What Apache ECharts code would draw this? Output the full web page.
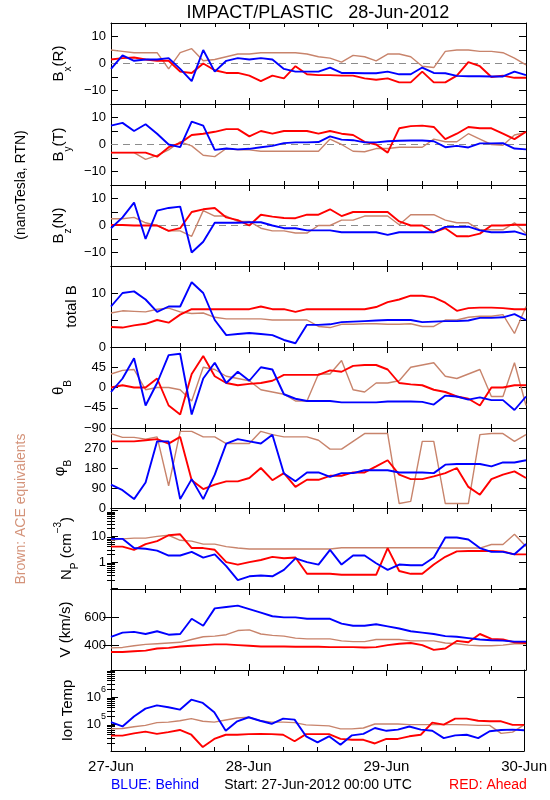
<!DOCTYPE html>
<html><head><meta charset="utf-8">
<script src="https://cdn.jsdelivr.net/npm/echarts@6/dist/echarts.min.js"></script>
<style>html,body{margin:0;padding:0;background:#fff}#c{width:550px;height:800px}</style>
</head><body><div id="c"></div>
<script>
// ---------- data (hours since 27-Jun-2012 00:00 UTC) ----------
const HOURS = [0,2,4,6,8,10,12,14,16,18,20,22,24,26,28,30,32,34,36,38,40,42,44,46,48,50,52,54,56,58,60,62,64,66,68,70,72];
const X_TICK_LABELS = ['27-Jun','28-Jun','29-Jun','30-Jun'];

const BX_BEHIND = [-2,3,1,1.5,1.5,2,-2,-6.5,5,-3,1,2,1.5,2,1.5,-2,-3,-3,-3,-1.5,-3.5,-3.5,-3.6,-3.6,-3,-4,-4,-1.5,-3.5,-3.6,-4.6,-4.7,-4.7,-4.8,-4.8,-3,-4.3];
const BX_AHEAD  = [1.5,2,2.2,1.5,1,1,-3,-3.5,0,-2.5,-3.5,-3.5,-4.5,-6.5,-4.5,-5.5,-1,-4,-4.3,-4.3,-4.5,-4.5,-5.5,-6,-5.5,-7,-7,-3,-7,-7,-4.5,0.5,-1,-5,-4.5,-5.3,-5.3];
const BX_ACE    = [5,4.5,4,4,4,-2,4,5.5,1,1.5,2.5,3.5,3.5,4,4,4,4,3.5,2.5,2,0.5,3,2.5,1,3.5,3.5,2.5,-1,-1.5,4.5,5,5,4.5,4.5,4,2,-0.5];

const BY_BEHIND = [7,8,5,7.5,4,0,-1,8.5,7,-2,-1.5,-1.8,-1.6,-1,-0.5,0.5,0.8,0.8,0.9,3,1.8,1.6,0.8,0.8,1.2,1.4,1.5,1.5,1.2,-1,-0.5,-1.1,0.4,0.4,0.5,-1.5,-1.8];
const BY_AHEAD  = [-3,-3,-3,-3,-4.5,-1,0.5,3.5,4,4.7,5.7,5.7,3,5,4,5,5,5,4,5,4,3.5,1,0,-3,6,6.8,7,6.5,2,4,6.5,6,6,4,2,4.7];
const BY_ACE    = [-3,-3,-3,-5.5,-4,-2,1,-0.5,-4,-4.5,-1.5,-2,-2,-2.5,-2.5,-2.5,-2.5,-2.5,-2.5,2,0,-2.5,-2.7,-1.5,-1.5,-1,-1,-1,2,1,1,4,2,0,-0.3,3.5,4.5];

const BZ_BEHIND = [-1,3,8.5,-5,5.5,6.5,7,-10,-6,1,1,1,1.2,1.2,0,-1,-1,-1.8,-1.8,-1.8,-2.5,-2.5,-2.5,-2.5,-3.5,-2.5,-2.5,-2.5,-2.5,-0.5,-0.5,-0.4,-1.8,-2.5,-2.5,-2.2,-3.5];
const BZ_AHEAD  = [0.2,0.2,0,0,0,-2,-1,5,6,6.5,3,2,0,4,3.3,2.8,2.7,4,4,6,3.5,5,5,5,5,1.5,0,0,-2.5,-1,-4,-4,-3,0,0,0.3,0.3];
const BZ_ACE    = [2.5,2.5,3,1,0,-2,-2,-4,5.5,3.5,3.5,1.5,1.5,-1,-2,-2,-2.8,-2.8,0,0,2,2,3.5,3.5,3.5,0.3,4,4,4,2,1,1,-1.6,-1.6,-1.6,1,-3];

const BT_BEHIND = [7.5,10,10.3,8.8,6.5,7.5,7.5,12,10,5,2.2,2.4,2.6,2.4,2.2,1.3,0.7,4.1,4.1,4.2,4.6,4.7,4.8,4.9,5,5,5,4.6,4.7,4.8,4.8,4.9,5.4,5.4,5.5,6.1,5];
const BT_AHEAD  = [3.7,3.6,4,4.3,5,4.5,6,7,7,7,7,7,7,7.5,7,7,6.5,7,7,7,7,7,7,7.4,8.3,8.8,9.5,9.5,9.2,8.2,6.7,7.2,7.3,7.3,7.2,7,7];
const BT_ACE    = [6.3,6.7,6.6,6.5,7,7.2,6.5,6.2,6.3,5.5,5.2,5.2,5.2,5.2,5,5,5,5,3.8,3.6,4.2,4.2,4.3,4.3,4.2,4.2,4.3,3.8,3.8,5,5,5.5,5.7,5.7,6,2.5,7.5];

const TH_BEHIND = [-10,20,65,-40,10,72,75,-60,20,55,10,35,15,45,40,-15,-25,-30,-30,-30,-33,-33,-33,-33,-31,-31,-31,-32,-38,-18,-20,-27,-22,-28,-28,-50,-20];
const TH_AHEAD  = [0,5,0,0,20,-40,-60,30,70,25,10,5,8,10,15,28,28,28,28,38,35,48,50,50,40,10,7,5,-5,-10,-20,-25,-40,0,0,5,5];
const TH_ACE    = [30,38,40,-5,0,0,-5,-30,45,40,25,20,15,-5,-10,-15,-30,-30,30,30,60,-5,-10,10,10,15,45,50,55,25,20,30,40,-20,-20,55,-40];

const PH_BEHIND = [105,80,40,115,300,300,40,130,40,150,290,310,300,290,330,155,120,160,160,140,157,157,170,170,170,160,160,160,157,195,198,198,198,187,205,205,215];
const PH_AHEAD  = [300,300,300,305,310,290,320,125,85,105,120,120,135,180,125,157,95,127,127,145,145,160,160,187,215,150,130,130,142,157,180,95,60,130,150,165,135];
const PH_ACE    = [335,318,318,310,320,100,345,345,320,320,290,290,290,345,330,320,320,320,305,265,265,300,335,335,335,20,30,300,300,20,20,20,330,335,335,300,330];

const NP_BEHIND = [8,8,3.5,3.3,2.8,1.8,1.8,2.5,1.5,2,0.7,0.2,0.28,0.3,0.28,0.5,1.4,1,0.8,3,0.8,1.8,1.8,0.9,0.5,0.8,0.75,0.75,1.5,9,9,7.5,3.5,2.5,2.5,2,5];
const NP_AHEAD  = [4,4,3,5,6.5,11,12,3.5,3.5,3,1,0.8,1,1.2,1.6,1.4,1.5,0.35,0.35,0.35,0.32,0.32,0.32,0.32,3.5,0.45,0.35,0.35,0.8,1.6,2.6,2.7,2.7,2.7,2.6,2,2];
const NP_ACE    = [7,8,8.5,8.5,10,11,7,6.5,5,5,4,3.5,3.2,3.2,3.2,3.2,3.2,3.2,3.2,3.2,3.6,3.6,3.6,3.6,3.6,3.6,3.6,3.6,3.6,3.5,3.5,3.5,3.5,4.8,4.8,12,4];

const V_BEHIND = [460,490,495,480,500,475,480,590,540,665,675,685,660,635,608,600,600,590,590,590,555,540,540,550,535,520,500,490,480,465,460,450,440,435,432,425,425];
const V_AHEAD  = [350,350,355,360,375,380,390,395,400,405,405,400,395,390,390,390,388,388,388,385,385,385,383,385,400,410,415,400,365,375,430,420,480,445,440,420,415];
const V_ACE    = [380,383,395,405,410,415,420,440,460,465,475,505,510,480,470,465,450,445,445,445,430,425,425,440,440,440,430,430,430,415,410,400,395,395,400,410,410];

const T_BEHIND = [117e3,81e3,191e3,372e3,490e3,417e3,339e3,794e3,603e3,275e3,56e3,126e3,178e3,132e3,102e3,158e3,145e3,35e3,21e3,35e3,17e3,38e3,43e3,71e3,56e3,62e3,81e3,62e3,56e3,30e3,38e3,40e3,30e3,54e3,60e3,62e3,59e3];
const T_AHEAD  = [37e3,37e3,45e3,52e3,43e3,50e3,60e3,40e3,14e3,28e3,40e3,40e3,42e3,43e3,42e3,40e3,23e3,42e3,42e3,42e3,28e3,26e3,26e3,19e3,28e3,28e3,35e3,40e3,112e3,95e3,158e3,158e3,132e3,126e3,126e3,93e3,93e3];
const T_ACE    = [66e3,68e3,79e3,89e3,112e3,117e3,132e3,158e3,126e3,117e3,141e3,166e3,178e3,132e3,117e3,117e3,112e3,93e3,89e3,85e3,66e3,66e3,71e3,100e3,100e3,100e3,95e3,95e3,95e3,95e3,95e3,93e3,89e3,89e3,45e3,50e3,93e3];

// ---------- layout / style ----------
const FONT = 'Liberation Sans';
const C_BEHIND = '#0000ff', C_AHEAD = '#ff0000', C_ACE = '#c8846c';
const LEFT = 111, RIGHT_EDGE = 526, TOP0 = 23, PH = 80.9;

const RICH = {
  m: {fontSize: 15, fontFamily: FONT, color: '#000', lineHeight: 18},
  s: {fontSize: 10, fontFamily: FONT, color: '#000', lineHeight: 18, verticalAlign: 'bottom', padding: [0,0,-5,0]},
  p: {fontSize: 10, fontFamily: FONT, color: '#000', lineHeight: 18, verticalAlign: 'top', padding: [-4,0,0,0]}
};
const minus = v => (v < 0 ? '\u2212' + Math.abs(v) : String(v));

function logMinors(lo, hi) {
  const out = [];
  for (let k = lo; k < hi; k++) for (let m = 2; m <= 9; m++) out.push(m * Math.pow(10, k));
  return out;
}

const PANELS = [
  {name: '{m|B}{s|x}{m|(R)}', gap: 40, type: 'value', min: -15, max: 15, interval: 5, labels: [-10,0,10], zero: true, s: [BX_ACE, BX_AHEAD, BX_BEHIND]},
  {name: '{m|B}{s|y}{m|(T)}', gap: 40, type: 'value', min: -15, max: 15, interval: 5, labels: [-10,0,10], zero: true, s: [BY_ACE, BY_AHEAD, BY_BEHIND]},
  {name: '{m|B}{s|z}{m|(N)}', gap: 40, type: 'value', min: -15, max: 15, interval: 5, labels: [-10,0,10], zero: true, s: [BZ_ACE, BZ_AHEAD, BZ_BEHIND]},
  {name: '{m|total B}', gap: 30, type: 'value', min: 0, max: 15, interval: 5, labels: [0,10], s: [BT_ACE, BT_AHEAD, BT_BEHIND]},
  {name: '{m|\u03b8}{s|B}', gap: 42, type: 'value', min: -90, max: 90, interval: 45, labels: [-90,-45,0,45], s: [TH_ACE, TH_AHEAD, TH_BEHIND]},
  {name: '{m|\u03c6}{s|B}', gap: 40, type: 'value', min: 0, max: 360, interval: 90, labels: [0,90,180,270], s: [PH_ACE, PH_AHEAD, PH_BEHIND]},
  {name: '{m|N}{s|P}{m| (cm}{p|\u22123}{m|)}', gap: 28, type: 'log', min: 0.09, max: 126, labels: [1,10], majors: [0.1,1,10,100], minors: logMinors(-2,3).filter(v => v > 0.09 && v < 126), s: [NP_ACE, NP_AHEAD, NP_BEHIND]},
  {name: '{m|V (km/s)}', gap: 35, type: 'value', min: 220, max: 805, interval: 20, labels: [400,600], majors: [400,600], dense: true, s: [V_ACE, V_AHEAD, V_BEHIND]},
  {name: '{m|Ion Temp}', gap: 33, type: 'log', min: 1e4, max: 1e7, labels: [1e5,1e6], majors: [1e4,1e5,1e6,1e7], minors: logMinors(4,7), s: [T_ACE, T_AHEAD, T_BEHIND], sup: true}
];

const grid = [], xAxis = [], yAxis = [], series = [];
const axLine = {show: true, onZero: false, lineStyle: {color: '#000', width: 1}};

PANELS.forEach((p, i) => {
  const top = Math.round(TOP0 + i * PH);
  const bot = Math.round(TOP0 + (i + 1) * PH);
  grid.push({left: LEFT, width: RIGHT_EDGE - LEFT, top: top, height: bot - top});
  const last = i === PANELS.length - 1;
  ['bottom', 'top'].forEach(pos => {
    xAxis.push({
      gridIndex: i, type: 'value', position: pos, min: 0, max: 72, interval: 24,
      axisLine: axLine, splitLine: {show: false},
      axisTick: {show: true, inside: true, length: 6, lineStyle: {color: '#000'}},
      minorTick: {show: true, splitNumber: 4, length: 4, lineStyle: {color: '#000'}},
      axisLabel: {show: last && pos === 'bottom', margin: 8, fontFamily: FONT, fontSize: 15, color: '#000',
        formatter: v => X_TICK_LABELS[Math.round(v / 24)]}
    });
  });
  const mainIdx = yAxis.length;
  const base = {gridIndex: i, type: p.type, min: p.min, max: p.max, splitLine: {show: false}};
  if (p.type === 'log') base.logBase = 10;
  if (p.interval) base.interval = p.interval;
  ['left', 'right'].forEach(pos => {
    const tickLen = p.dense ? 3 : 7;
    const ax = Object.assign({}, base, {
      position: pos,
      axisLine: axLine,
      axisTick: {show: true, inside: true, length: tickLen, lineStyle: {color: '#000'}},
      axisLabel: {show: pos === 'left', margin: 5, fontFamily: FONT, fontSize: 13, color: '#000',
        customValues: p.labels,
        formatter: p.sup ? (v => '10{p|' + Math.round(Math.log10(v)) + '}') : (v => minus(Math.round(v * 100) / 100)),
        rich: {p: {fontSize: 9, fontFamily: FONT, color: '#000', verticalAlign: 'top', padding: [-5,0,0,0]}}}
    });
    if (p.majors) ax.axisTick.customValues = p.majors;
    if (p.type === 'log') ax.axisTick.length = 7;
    if (pos === 'left') {
      ax.name = p.name; ax.nameLocation = 'middle'; ax.nameGap = p.gap;
      ax.nameTextStyle = {rich: RICH, fontFamily: FONT};
    }
    yAxis.push(ax);
    if (p.minors) {
      yAxis.push(Object.assign({}, base, {position: pos, axisLine: {show: false},
        axisTick: {show: true, inside: true, length: 4, customValues: p.minors, lineStyle: {color: '#000'}},
        axisLabel: {show: false}}));
    }
    if (p.dense) {
      yAxis.push(Object.assign({}, base, {position: pos, axisLine: {show: false},
        axisTick: {show: true, inside: true, length: 8, customValues: p.majors, lineStyle: {color: '#000'}},
        axisLabel: {show: false}}));
    }
  });
  if (p.zero) {
    series.push({type: 'line', xAxisIndex: 2 * i, yAxisIndex: mainIdx, data: [[0, 0], [72, 0]],
      showSymbol: false, silent: true, z: 1,
      lineStyle: {color: '#8c8c8c', width: 1, type: [7, 5]}});
  }
  const cols = [C_ACE, C_AHEAD, C_BEHIND];
  const widths = [1.4, 1.9, 1.9];
  p.s.forEach((arr, k) => {
    series.push({type: 'line', xAxisIndex: 2 * i, yAxisIndex: mainIdx,
      data: HOURS.map((h, j) => [h, arr[j]]), showSymbol: false, silent: true, z: 2 + k,
      lineStyle: {color: cols[k], width: widths[k]}});
  });
});

function txt(x, y, text, size, color, rot) {
  const g = {type: 'text', x: x, y: y, style: {text: text, fontSize: size, fontFamily: FONT, fill: color, align: 'center', verticalAlign: 'middle'}};
  if (rot) g.rotation = rot;
  return g;
}
const graphic = [
  txt(318, 13, 'IMPACT/PLASTIC   28-Jun-2012', 18, '#000'),
  txt(21, 185, '(nanoTesla, RTN)', 14, '#000', Math.PI / 2),
  txt(21, 509, 'Brown: ACE equivalents', 14, '#d4937a', Math.PI / 2),
  txt(155, 785, 'BLUE: Behind', 14, '#0000ff'),
  txt(318, 785, 'Start: 27-Jun-2012 00:00 UTC', 14, '#000'),
  txt(488, 785, 'RED: Ahead', 14, '#ff0000')
];

const chart = echarts.init(document.getElementById('c'), null, {renderer: 'canvas'});
chart.setOption({animation: false, backgroundColor: '#fff', grid, xAxis, yAxis, series, graphic});
</script></body></html>
